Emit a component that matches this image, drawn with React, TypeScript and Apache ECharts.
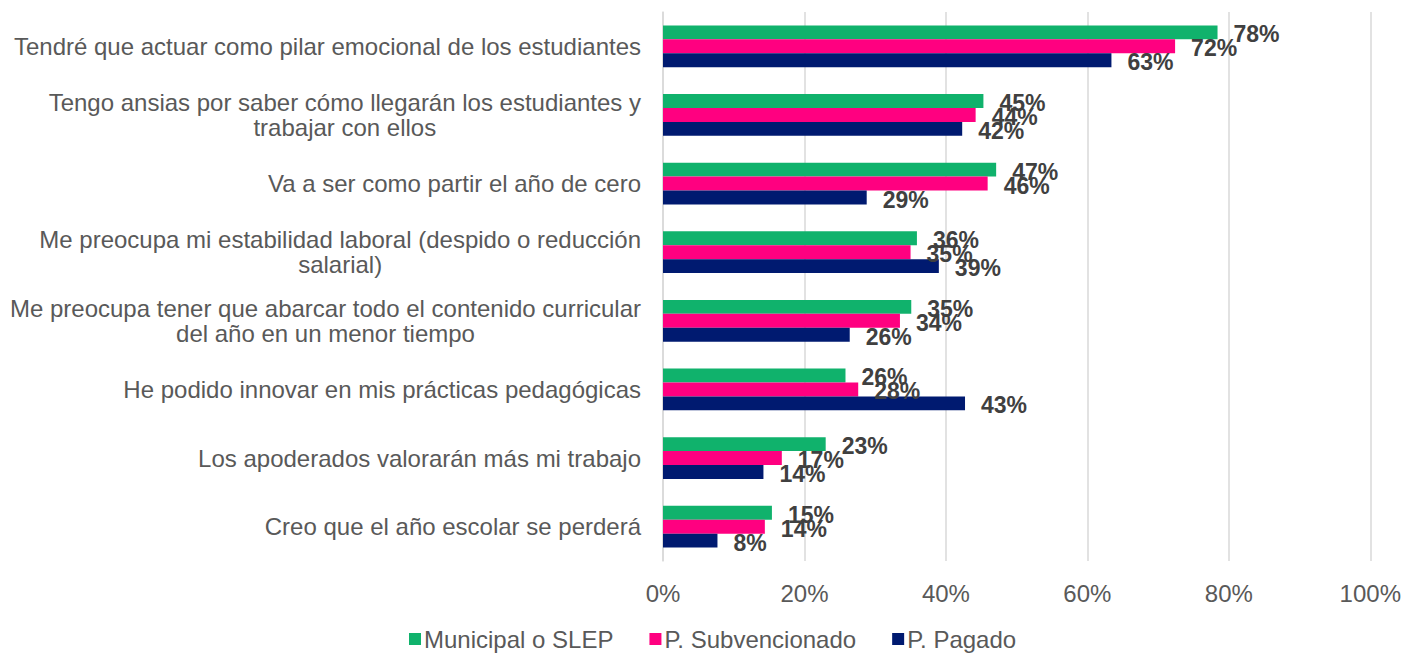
import React, { useEffect, useRef } from "react";
import * as echarts from "echarts";

const categories = [
  "Tendré que actuar como pilar emocional de los estudiantes",
  "Tengo ansias por saber cómo llegarán los estudiantes y\ntrabajar con ellos",
  "Va a ser como partir el año de cero",
  "Me preocupa mi estabilidad laboral (despido o reducción\nsalarial)",
  "Me preocupa tener que abarcar todo el contenido curricular\ndel año en un menor tiempo",
  "He podido innovar en mis prácticas pedagógicas",
  "Los apoderados valorarán más mi trabajo",
  "Creo que el año escolar se perderá",
];

const seriesNames = ["Municipal o SLEP", "P. Subvencionado", "P. Pagado"];
const municipal = [78.4, 45.3, 47.1, 35.9, 35.1, 25.8, 23.0, 15.4];
const subvencionado = [72.4, 44.2, 45.9, 35.0, 33.5, 27.6, 16.8, 14.4];
const pagado = [63.4, 42.3, 28.8, 39.0, 26.4, 42.7, 14.2, 7.7];
const colors = ["#10B26C", "#FF0080", "#001A70"];

const FONT = "'Liberation Sans', Arial, sans-serif";

export default function App() {
  const ref = useRef<HTMLDivElement>(null);
  useEffect(() => {
    if (!ref.current) return;
    const chart = echarts.init(ref.current, undefined, { renderer: "svg" });
    const data = [municipal, subvencionado, pagado];
    chart.setOption({
      animation: false,
      textStyle: { fontFamily: FONT },
      grid: { left: 663, right: 33, top: 12, bottom: 94, containLabel: false },
      legend: {
        top: 622,
        left: 404,
        itemWidth: 12,
        itemHeight: 12,
        itemGap: 36,
        icon: "rect",
        textStyle: { fontSize: 24, color: "#595959", fontFamily: FONT, padding: [0, 0, 0, -2] },
        data: seriesNames,
      },
      xAxis: {
        type: "value",
        min: 0,
        max: 100,
        interval: 20,
        axisLine: { show: false },
        axisTick: { show: false },
        splitLine: { lineStyle: { color: "#D9D9D9", width: 1.5 } },
        axisLabel: {
          formatter: (v: number) => `${v}%`,
          fontSize: 24,
          color: "#595959",
          margin: 20,
          fontFamily: FONT,
        },
      },
      yAxis: {
        type: "category",
        inverse: true,
        data: categories,
        axisLine: { show: true, lineStyle: { color: "#D9D9D9", width: 1.5 } },
        axisTick: { show: false },
        axisLabel: {
          margin: 22,
          fontSize: 24,
          color: "#595959",
          fontFamily: FONT,
          lineHeight: 25,
          formatter: (v: string) =>
            v
              .split("\n")
              .map((l) => `{c|${l}}`)
              .join("\n"),
          rich: {
            c: { align: "center", fontSize: 24, color: "#595959", fontFamily: FONT, lineHeight: 25 },
          },
        },
      },
      series: seriesNames.map((name, i) => ({
        name,
        type: "bar",
        data: data[i],
        barGap: "0%",
        barCategoryGap: "39%",
        itemStyle: { color: colors[i] },
        label: {
          show: true,
          position: "right",
          distance: 16,
          formatter: (p: any) => `${Math.round(p.value)}%`,
          fontSize: 23,
          fontWeight: "bold",
          color: "#404040",
          fontFamily: FONT,
          offset: [0, 2],
        },
      })),
    });
    return () => chart.dispose();
  }, []);
  return <div ref={ref} style={{ width: 1404, height: 655, position: "absolute", left: 0, top: 0 }} />;
}
